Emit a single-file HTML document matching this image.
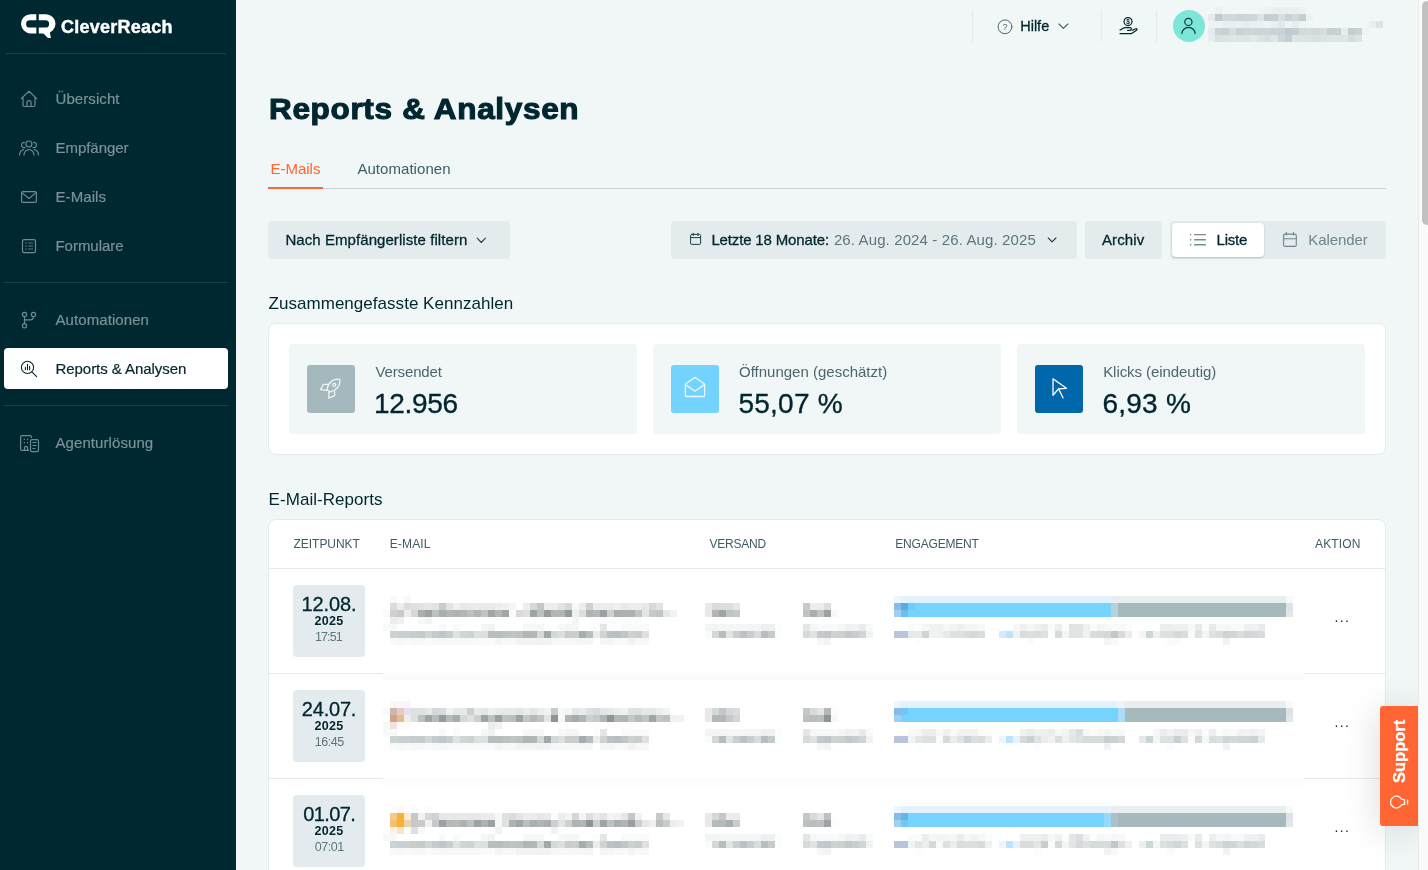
<!DOCTYPE html>
<html lang="de">
<head>
<meta charset="utf-8">
<title>Reports &amp; Analysen</title>
<style>
*{box-sizing:border-box;margin:0;padding:0}
html,body{width:1428px;height:870px;overflow:hidden}
body{font-family:"Liberation Sans",sans-serif;background:#f1f6f7;color:#00262f;position:relative}
.abs{position:absolute}
.t{position:absolute;white-space:nowrap;line-height:1}
.m{-webkit-text-stroke:.3px currentColor}
/* sidebar */
#side{position:absolute;left:0;top:0;width:236px;height:870px;background:#002831}
#side .hr{position:absolute;height:1px;background:#1d3f48}
.nl{position:absolute;left:55.5px;font-size:15px;line-height:1;color:#7a9196;white-space:nowrap;letter-spacing:.08px;-webkit-text-stroke:.2px currentColor}
/* header */
.vsep{position:absolute;top:10px;width:1px;height:32px;background:#e3eaec}
/* main */
.btn{position:absolute;top:221px;height:38px;background:#e4ebed;border-radius:4px}
.card{position:absolute;left:268px;width:1118px;background:#fff;border:1px solid #e4ebed;border-radius:8px}
.tile{position:absolute;top:344px;width:348px;height:90px;background:#f1f6f7;border-radius:4px}
.ico{position:absolute;top:365px;width:48px;height:48px;border-radius:3px}
.kl{position:absolute;top:363.6px;font-size:15px;line-height:1;color:#4d666d;white-space:nowrap}
.kv{position:absolute;top:390px;font-size:28px;line-height:1;color:#00262f;white-space:nowrap;-webkit-text-stroke:.35px #00262f}
.th{position:absolute;top:537.8px;font-size:12px;line-height:1;color:#3d5d66;white-space:nowrap}
.rowline{position:absolute;height:1px;background:#e4ebed}
.date{position:absolute;left:293px;width:72px;height:72px;background:#e3ebee;border-radius:4px;color:#00262f}
.date div{position:absolute;white-space:nowrap;line-height:1}
.date .d{left:0;right:0;text-align:center;top:8.7px;font-size:20px;-webkit-text-stroke:.3px #00262f}
.date .y{left:21.4px;top:30px;font-size:12.5px;font-weight:700;letter-spacing:.3px}
.date .h{left:0;right:0;text-align:center;top:45.5px;font-size:12.5px;color:#5d757c}
.dots{position:absolute;left:1334.4px;font-size:14px;letter-spacing:1.36px;color:#00262f;line-height:1;white-space:nowrap}
svg.mz{position:absolute;display:block}
svg.mz rect{height:7px;shape-rendering:crispEdges}
#ic{position:absolute;left:0;top:0;pointer-events:none}
#ic *{fill:none;stroke-linecap:round;stroke-linejoin:round}
</style>
</head>
<body>
<!-- SIDEBAR -->
<div id="side">
  <div class="t" id="logo" style="left:61px;top:18.2px;font-size:18px;font-weight:700;color:#fff;letter-spacing:.25px;-webkit-text-stroke:.4px #fff">CleverReach</div>
  <div class="hr" style="top:53px;left:6px;width:220px"></div>
  <span class="nl" style="top:90.6px">Übersicht</span>
  <span class="nl" style="top:139.6px;letter-spacing:-.04px">Empfänger</span>
  <span class="nl" style="top:188.6px">E-Mails</span>
  <span class="nl" style="top:237.6px;letter-spacing:-.04px">Formulare</span>
  <div class="hr" style="top:282px;left:4px;width:224px"></div>
  <span class="nl" style="top:311.6px">Automationen</span>
  <div class="abs" style="left:4px;top:348px;width:224px;height:41px;border-radius:4px;background:#fff"></div>
  <span class="nl m" style="top:360.6px;color:#00262f;letter-spacing:-.05px">Reports &amp; Analysen</span>
  <div class="hr" style="top:405px;left:4px;width:224px"></div>
  <span class="nl" style="top:434.6px">Agenturlösung</span>
</div>

<!-- HEADER -->
<div class="vsep" style="left:972px"></div>
<div class="vsep" style="left:1101px"></div>
<div class="vsep" style="left:1156px"></div>
<div class="t m" style="left:1020.2px;top:18.7px;font-size:14.5px;color:#00262f">Hilfe</div>
<div class="t" style="left:1002.6px;top:22.6px;font-size:9px;color:#4d666d">?</div>
<div class="abs" style="left:1173px;top:10px;width:32px;height:32px;border-radius:50%;background:#7ee6d6"></div>
<svg class="mz" style="left:1208px;top:0" width="182" height="49" viewBox="0 0 182 49"><rect x="7" y="7" width="7" fill="#eaf0f3"/><rect x="49" y="7" width="7" fill="#eef3f4"/><rect x="56" y="7" width="7" fill="#ecf1f3"/><rect x="63" y="7" width="28" fill="#e9eff1"/><rect x="91" y="7" width="7" fill="#ecf1f3"/><rect x="0" y="14" width="7" fill="#e6ecee"/><rect x="7" y="14" width="7" fill="#bfcbce"/><rect x="14" y="14" width="7" fill="#cfd8da"/><rect x="21" y="14" width="7" fill="#d0d9db"/><rect x="28" y="14" width="7" fill="#ccd6d8"/><rect x="35" y="14" width="7" fill="#cdd6d8"/><rect x="42" y="14" width="7" fill="#ced7d9"/><rect x="49" y="14" width="7" fill="#dde4e6"/><rect x="56" y="14" width="7" fill="#c3ced1"/><rect x="63" y="14" width="7" fill="#c5d0d2"/><rect x="70" y="14" width="7" fill="#d8dfe1"/><rect x="77" y="14" width="7" fill="#c9d3d5"/><rect x="84" y="14" width="7" fill="#d1d9db"/><rect x="91" y="14" width="7" fill="#c3ced1"/><rect x="98" y="14" width="7" fill="#ebf1f3"/><rect x="0" y="21" width="14" fill="#edf2f4"/><rect x="14" y="21" width="14" fill="#e9eef0"/><rect x="28" y="21" width="7" fill="#eaeff1"/><rect x="35" y="21" width="7" fill="#e7edef"/><rect x="42" y="21" width="7" fill="#eaeff1"/><rect x="49" y="21" width="7" fill="#ebf0f2"/><rect x="56" y="21" width="7" fill="#eef3f4"/><rect x="63" y="21" width="7" fill="#e8eef0"/><rect x="70" y="21" width="7" fill="#e3e9eb"/><rect x="77" y="21" width="7" fill="#eef3f5"/><rect x="84" y="21" width="7" fill="#e7ecef"/><rect x="91" y="21" width="7" fill="#eef3f4"/><rect x="161" y="21" width="7" fill="#eaeff1"/><rect x="168" y="21" width="7" fill="#dce3e6"/><rect x="0" y="28" width="7" fill="#e6ecee"/><rect x="7" y="28" width="7" fill="#c9d3d5"/><rect x="14" y="28" width="7" fill="#c7d1d4"/><rect x="21" y="28" width="7" fill="#d5dddf"/><rect x="28" y="28" width="7" fill="#c8d2d4"/><rect x="35" y="28" width="7" fill="#cbd4d6"/><rect x="42" y="28" width="14" fill="#ccd5d7"/><rect x="56" y="28" width="7" fill="#cbd4d7"/><rect x="63" y="28" width="14" fill="#c9d3d5"/><rect x="77" y="28" width="7" fill="#bfcbce"/><rect x="84" y="28" width="7" fill="#c3ced1"/><rect x="91" y="28" width="7" fill="#d2dadc"/><rect x="98" y="28" width="7" fill="#d3dbdd"/><rect x="105" y="28" width="7" fill="#d0d8da"/><rect x="112" y="28" width="7" fill="#d6dddf"/><rect x="119" y="28" width="7" fill="#c6d0d2"/><rect x="126" y="28" width="7" fill="#c8d2d4"/><rect x="133" y="28" width="7" fill="#e6ecee"/><rect x="140" y="28" width="7" fill="#c3ced0"/><rect x="147" y="28" width="7" fill="#c8d1d4"/><rect x="154" y="28" width="7" fill="#eef3f4"/><rect x="0" y="35" width="7" fill="#e8eef0"/><rect x="7" y="35" width="7" fill="#d9e0e2"/><rect x="14" y="35" width="7" fill="#dbe2e4"/><rect x="21" y="35" width="7" fill="#dfe5e7"/><rect x="28" y="35" width="14" fill="#dde4e6"/><rect x="42" y="35" width="7" fill="#e3e9eb"/><rect x="49" y="35" width="7" fill="#dbe2e4"/><rect x="56" y="35" width="7" fill="#d6dee0"/><rect x="63" y="35" width="7" fill="#e0e6e8"/><rect x="70" y="35" width="7" fill="#cdd6d9"/><rect x="77" y="35" width="7" fill="#c4cfd2"/><rect x="84" y="35" width="7" fill="#dde4e6"/><rect x="91" y="35" width="7" fill="#dce3e5"/><rect x="98" y="35" width="7" fill="#dae1e3"/><rect x="105" y="35" width="7" fill="#d8dfe2"/><rect x="112" y="35" width="7" fill="#dce3e5"/><rect x="119" y="35" width="7" fill="#dde4e6"/><rect x="126" y="35" width="14" fill="#dfe5e7"/><rect x="140" y="35" width="7" fill="#d5dddf"/><rect x="147" y="35" width="7" fill="#dce3e5"/></svg>

<!-- TITLE -->
<div class="t" id="title" style="left:269.3px;top:94.4px;font-size:30px;font-weight:700;color:#00262f;letter-spacing:.64px;-webkit-text-stroke:1.1px #00262f;transform-origin:0 50%;transform:scaleX(1.05)">Reports &amp; Analysen</div>

<!-- TABS -->
<div class="t" style="left:270.4px;top:160.5px;font-size:15px;color:#ff6633">E-Mails</div>
<div class="t" style="left:357.4px;top:160.5px;font-size:15px;color:#3d5d66;letter-spacing:.05px">Automationen</div>
<div class="abs" style="left:268px;top:188px;width:1118px;height:1px;background:#c9d4d7"></div>
<div class="abs" style="left:268px;top:187px;width:55px;height:2px;background:#ff6633"></div>

<!-- FILTERS -->
<div class="btn" style="left:268px;width:242px"></div>
<div class="t m" style="left:285.4px;top:232.4px;font-size:15px;letter-spacing:.07px">Nach Empfängerliste filtern</div>
<div class="btn" style="left:671px;width:406px"></div>
<div class="t m" style="left:711.4px;top:232.4px;font-size:15px;letter-spacing:-.15px">Letzte 18 Monate:</div>
<div class="t" style="left:833.9px;top:232.4px;font-size:15px;color:#5d757c;letter-spacing:.12px">26. Aug. 2024 - 26. Aug. 2025</div>
<div class="btn" style="left:1085px;width:77px"></div>
<div class="t m" style="left:1102px;top:232.4px;font-size:15px;letter-spacing:.1px">Archiv</div>
<div class="btn" style="left:1170px;width:216px"></div>
<div class="abs" style="left:1172px;top:223px;width:92px;height:34px;background:#fff;border-radius:4px;box-shadow:0 1px 2px rgba(0,38,47,.22)"></div>
<div class="t m" style="left:1216.6px;top:232.4px;font-size:15px;letter-spacing:-.25px">Liste</div>
<div class="t" style="left:1308.3px;top:232.4px;font-size:15px;color:#6f868c;letter-spacing:-.1px">Kalender</div>

<!-- KPI -->
<div class="t" style="left:268.6px;top:294.5px;font-size:17px;letter-spacing:.03px">Zusammengefasste Kennzahlen</div>
<div class="card" style="top:323px;height:132px"></div>
<div class="tile" style="left:289px"></div>
<div class="tile" style="left:653px"></div>
<div class="tile" style="left:1017px"></div>
<div class="ico" style="left:307px;background:#a5b8bd"></div>
<div class="ico" style="left:671px;background:#74d3fe"></div>
<div class="ico" style="left:1035px;background:#0067ab"></div>
<span class="kl" style="left:375.4px;letter-spacing:-.12px">Versendet</span>
<span class="kv" style="left:374px;letter-spacing:-.3px">12.956</span>
<span class="kl" style="left:739px">Öffnungen (geschätzt)</span>
<span class="kv" style="left:738.4px;letter-spacing:.25px">55,07 %</span>
<span class="kl" style="left:1103.2px;letter-spacing:-.07px">Klicks (eindeutig)</span>
<span class="kv" style="left:1102.4px;letter-spacing:.25px">6,93 %</span>

<!-- TABLE -->
<div class="t" style="left:268.6px;top:490.7px;font-size:17px;letter-spacing:.05px">E-Mail-Reports</div>
<div class="card" style="top:519px;height:400px"></div>
<span class="th" style="left:293.5px;letter-spacing:-.03px">ZEITPUNKT</span>
<span class="th" style="left:389.7px;letter-spacing:.17px">E-MAIL</span>
<span class="th" style="left:709.4px;letter-spacing:-.19px">VERSAND</span>
<span class="th" style="left:895.3px;letter-spacing:-.19px">ENGAGEMENT</span>
<span class="th" style="left:1315px;letter-spacing:.13px">AKTION</span>
<div class="rowline" style="left:269px;top:568px;width:1116px"></div>
<div class="rowline" style="left:269px;top:673px;width:1116px"></div>
<div class="rowline" style="left:269px;top:778px;width:1116px"></div>
<div class="abs" style="left:383px;top:673px;width:921px;height:7px;background:#fbfcfc"></div>
<div class="abs" style="left:383px;top:778px;width:921px;height:7px;background:#fbfcfc"></div>

<div class="date" style="top:585px"><div class="d" style="letter-spacing:-.1px">12.08.</div><div class="y">2025</div><div class="h" style="letter-spacing:-.9px;padding-right:1.2px">17:51</div></div>
<div class="date" style="top:690px"><div class="d" style="letter-spacing:-.2px">24.07.</div><div class="y">2025</div><div class="h" style="letter-spacing:-.5px;padding-left:.5px">16:45</div></div>
<div class="date" style="top:795px"><div class="d" style="letter-spacing:-.6px;padding-left:.6px">01.07.</div><div class="y">2025</div><div class="h" style="letter-spacing:-.45px;padding-left:.5px">07:01</div></div>
<svg class="mz" style="left:383px;top:596px" width="921" height="49" viewBox="0 0 921 49"><rect x="7" y="0" width="7" fill="#f8f8f8"/><rect x="21" y="0" width="7" fill="#f8f8f8"/><rect x="511" y="0" width="7" fill="#eef6fd"/><rect x="518" y="0" width="210" fill="#e3f2fd"/><rect x="728" y="0" width="7" fill="#e6eef2"/><rect x="735" y="0" width="168" fill="#e9eeef"/><rect x="903" y="0" width="7" fill="#f8fafa"/><rect x="7" y="7" width="7" fill="#dcdcdd"/><rect x="14" y="7" width="7" fill="#ececec"/><rect x="21" y="7" width="7" fill="#dcdcdd"/><rect x="28" y="7" width="7" fill="#dedfdf"/><rect x="35" y="7" width="7" fill="#e2e2e2"/><rect x="42" y="7" width="7" fill="#e6e6e6"/><rect x="49" y="7" width="7" fill="#e2e3e3"/><rect x="56" y="7" width="7" fill="#c9cccd"/><rect x="63" y="7" width="7" fill="#e3e3e3"/><rect x="70" y="7" width="7" fill="#f0f0f0"/><rect x="77" y="7" width="7" fill="#e8e8e8"/><rect x="84" y="7" width="7" fill="#eaeaea"/><rect x="91" y="7" width="7" fill="#ebebeb"/><rect x="98" y="7" width="14" fill="#eaeaea"/><rect x="112" y="7" width="7" fill="#ededed"/><rect x="119" y="7" width="7" fill="#f0f0f0"/><rect x="126" y="7" width="7" fill="#f5f5f5"/><rect x="140" y="7" width="7" fill="#eeeeee"/><rect x="147" y="7" width="7" fill="#d5d8d8"/><rect x="154" y="7" width="7" fill="#c5c6c7"/><rect x="161" y="7" width="7" fill="#eeeeee"/><rect x="168" y="7" width="7" fill="#ececec"/><rect x="175" y="7" width="7" fill="#e2e4e4"/><rect x="182" y="7" width="7" fill="#d5d8d8"/><rect x="189" y="7" width="7" fill="#f8f8f8"/><rect x="196" y="7" width="7" fill="#ececec"/><rect x="203" y="7" width="7" fill="#cfd0d1"/><rect x="210" y="7" width="7" fill="#ececec"/><rect x="217" y="7" width="7" fill="#ededed"/><rect x="224" y="7" width="7" fill="#ebebeb"/><rect x="231" y="7" width="7" fill="#efefef"/><rect x="238" y="7" width="7" fill="#e9e9ea"/><rect x="245" y="7" width="7" fill="#ececec"/><rect x="252" y="7" width="7" fill="#ededed"/><rect x="259" y="7" width="7" fill="#e6e7e7"/><rect x="266" y="7" width="7" fill="#d8d9da"/><rect x="273" y="7" width="7" fill="#e2e3e4"/><rect x="322" y="7" width="7" fill="#e9e9e9"/><rect x="329" y="7" width="7" fill="#d9dbdb"/><rect x="336" y="7" width="14" fill="#dcdddd"/><rect x="350" y="7" width="7" fill="#e6e7e7"/><rect x="420" y="7" width="7" fill="#c8caca"/><rect x="427" y="7" width="14" fill="#ebecec"/><rect x="441" y="7" width="7" fill="#dcdddd"/><rect x="511" y="7" width="7" fill="#86bce6"/><rect x="518" y="7" width="7" fill="#5aace0"/><rect x="525" y="7" width="7" fill="#70ccf8"/><rect x="532" y="7" width="196" fill="#76d3fd"/><rect x="728" y="7" width="7" fill="#b9cfdb"/><rect x="735" y="7" width="168" fill="#a6babe"/><rect x="903" y="7" width="7" fill="#dde3e5"/><rect x="0" y="14" width="7" fill="#fafafa"/><rect x="7" y="14" width="7" fill="#d0d0d1"/><rect x="14" y="14" width="7" fill="#c9cacb"/><rect x="21" y="14" width="7" fill="#ededed"/><rect x="28" y="14" width="7" fill="#d5d8d8"/><rect x="35" y="14" width="7" fill="#a9aeaf"/><rect x="42" y="14" width="7" fill="#9da2a3"/><rect x="49" y="14" width="7" fill="#bcc0c0"/><rect x="56" y="14" width="7" fill="#a9aeae"/><rect x="63" y="14" width="7" fill="#b2b6b6"/><rect x="70" y="14" width="7" fill="#adb2b2"/><rect x="77" y="14" width="7" fill="#b2b6b6"/><rect x="84" y="14" width="7" fill="#bdc0c0"/><rect x="91" y="14" width="7" fill="#b0b4b4"/><rect x="98" y="14" width="7" fill="#c0c3c3"/><rect x="105" y="14" width="7" fill="#9fa4a5"/><rect x="112" y="14" width="7" fill="#b2b6b6"/><rect x="119" y="14" width="7" fill="#a0a5a6"/><rect x="126" y="14" width="7" fill="#fafafa"/><rect x="133" y="14" width="7" fill="#d8d9d9"/><rect x="140" y="14" width="7" fill="#e0e0e0"/><rect x="147" y="14" width="7" fill="#9fa4a5"/><rect x="154" y="14" width="7" fill="#bcc0c0"/><rect x="161" y="14" width="7" fill="#979c9d"/><rect x="168" y="14" width="7" fill="#b2b6b6"/><rect x="175" y="14" width="7" fill="#b0b5b5"/><rect x="182" y="14" width="7" fill="#959a9b"/><rect x="189" y="14" width="7" fill="#f0f0f0"/><rect x="196" y="14" width="7" fill="#dcdddd"/><rect x="203" y="14" width="7" fill="#adb2b2"/><rect x="210" y="14" width="7" fill="#b4b9b9"/><rect x="217" y="14" width="7" fill="#9ca2a3"/><rect x="224" y="14" width="7" fill="#cdd0d0"/><rect x="231" y="14" width="7" fill="#a9aeaf"/><rect x="238" y="14" width="14" fill="#abb0b1"/><rect x="252" y="14" width="7" fill="#c0c4c4"/><rect x="259" y="14" width="7" fill="#e4e5e5"/><rect x="266" y="14" width="7" fill="#c5c9c9"/><rect x="273" y="14" width="7" fill="#bfc4c4"/><rect x="280" y="14" width="7" fill="#e6e7e7"/><rect x="287" y="14" width="7" fill="#f0f1f1"/><rect x="322" y="14" width="7" fill="#e9e9e9"/><rect x="329" y="14" width="7" fill="#b2b6b6"/><rect x="336" y="14" width="7" fill="#9fa4a5"/><rect x="343" y="14" width="7" fill="#c0c3c3"/><rect x="350" y="14" width="7" fill="#c5c8c8"/><rect x="420" y="14" width="7" fill="#c0c3c3"/><rect x="427" y="14" width="7" fill="#a8adad"/><rect x="434" y="14" width="7" fill="#c0c3c3"/><rect x="441" y="14" width="7" fill="#9ca0a1"/><rect x="448" y="14" width="7" fill="#f8f8f8"/><rect x="511" y="14" width="7" fill="#9dd0f3"/><rect x="518" y="14" width="7" fill="#69bfee"/><rect x="525" y="14" width="203" fill="#76d3fd"/><rect x="728" y="14" width="7" fill="#b9cfdb"/><rect x="735" y="14" width="168" fill="#a6babe"/><rect x="903" y="14" width="7" fill="#e1e7e8"/><rect x="7" y="21" width="7" fill="#ececec"/><rect x="14" y="21" width="7" fill="#f0f0f0"/><rect x="35" y="21" width="7" fill="#f6f7f7"/><rect x="42" y="21" width="7" fill="#f3f4f4"/><rect x="189" y="21" width="7" fill="#f5f5f5"/><rect x="210" y="21" width="49" fill="#fcfcfc"/><rect x="0" y="28" width="14" fill="#f7f8f8"/><rect x="56" y="28" width="7" fill="#f8f9f9"/><rect x="70" y="28" width="7" fill="#fafafa"/><rect x="98" y="28" width="7" fill="#f5f5f5"/><rect x="105" y="28" width="7" fill="#f1f2f2"/><rect x="140" y="28" width="21" fill="#f6f7f7"/><rect x="175" y="28" width="7" fill="#f8f8f8"/><rect x="182" y="28" width="7" fill="#f4f5f5"/><rect x="189" y="28" width="7" fill="#f6f6f6"/><rect x="210" y="28" width="7" fill="#fcfcfc"/><rect x="217" y="28" width="7" fill="#e5e6e6"/><rect x="238" y="28" width="28" fill="#fafafa"/><rect x="322" y="28" width="14" fill="#f3f4f5"/><rect x="336" y="28" width="7" fill="#f4f5f5"/><rect x="343" y="28" width="21" fill="#f5f6f6"/><rect x="364" y="28" width="14" fill="#f4f5f5"/><rect x="378" y="28" width="14" fill="#eff0f1"/><rect x="392" y="28" width="7" fill="#fcfcfc"/><rect x="420" y="28" width="7" fill="#e3e6e7"/><rect x="427" y="28" width="7" fill="#f6f7f7"/><rect x="434" y="28" width="21" fill="#f8f9f9"/><rect x="455" y="28" width="7" fill="#f5f6f6"/><rect x="462" y="28" width="7" fill="#f0f1f1"/><rect x="469" y="28" width="7" fill="#f2f3f3"/><rect x="476" y="28" width="7" fill="#e8ebeb"/><rect x="483" y="28" width="7" fill="#f8f9f9"/><rect x="525" y="28" width="7" fill="#f8f9f9"/><rect x="532" y="28" width="7" fill="#fcfcfc"/><rect x="539" y="28" width="7" fill="#f5f6f6"/><rect x="546" y="28" width="14" fill="#f0f1f1"/><rect x="560" y="28" width="7" fill="#f6f7f7"/><rect x="567" y="28" width="7" fill="#f2f3f3"/><rect x="574" y="28" width="7" fill="#eeefef"/><rect x="581" y="28" width="7" fill="#f3f4f4"/><rect x="588" y="28" width="7" fill="#f4f5f5"/><rect x="595" y="28" width="7" fill="#f6f7f7"/><rect x="630" y="28" width="7" fill="#f7f8f8"/><rect x="637" y="28" width="7" fill="#eff1f1"/><rect x="644" y="28" width="7" fill="#f5f6f6"/><rect x="651" y="28" width="7" fill="#eff1f1"/><rect x="658" y="28" width="7" fill="#e9ecec"/><rect x="665" y="28" width="7" fill="#f8f9f9"/><rect x="672" y="28" width="7" fill="#eceeee"/><rect x="679" y="28" width="7" fill="#fdfdfd"/><rect x="686" y="28" width="14" fill="#e0e4e4"/><rect x="700" y="28" width="7" fill="#eef0f0"/><rect x="707" y="28" width="7" fill="#fbfbfb"/><rect x="714" y="28" width="7" fill="#f2f4f5"/><rect x="721" y="28" width="7" fill="#f6f7f7"/><rect x="728" y="28" width="14" fill="#f8f9f9"/><rect x="742" y="28" width="7" fill="#fcfcfc"/><rect x="777" y="28" width="7" fill="#ebedee"/><rect x="784" y="28" width="7" fill="#eaeced"/><rect x="791" y="28" width="14" fill="#eeefef"/><rect x="805" y="28" width="7" fill="#f8f9f9"/><rect x="812" y="28" width="7" fill="#e6eaea"/><rect x="819" y="28" width="7" fill="#fbfbfb"/><rect x="826" y="28" width="7" fill="#e6eaea"/><rect x="833" y="28" width="7" fill="#f8f8f8"/><rect x="840" y="28" width="7" fill="#f6f7f7"/><rect x="847" y="28" width="14" fill="#f8f9f9"/><rect x="861" y="28" width="7" fill="#eef0f0"/><rect x="868" y="28" width="7" fill="#eff1f2"/><rect x="875" y="28" width="7" fill="#e8ebeb"/><rect x="7" y="35" width="7" fill="#ccd3d4"/><rect x="14" y="35" width="7" fill="#c9d0d1"/><rect x="21" y="35" width="7" fill="#cad0d1"/><rect x="28" y="35" width="7" fill="#c7cdce"/><rect x="35" y="35" width="7" fill="#c5cbcc"/><rect x="42" y="35" width="7" fill="#d0d5d6"/><rect x="49" y="35" width="7" fill="#c5cbcc"/><rect x="56" y="35" width="7" fill="#c0c7c8"/><rect x="63" y="35" width="7" fill="#c8ced0"/><rect x="70" y="35" width="7" fill="#dfe2e3"/><rect x="77" y="35" width="7" fill="#d0d5d6"/><rect x="84" y="35" width="7" fill="#cdd2d3"/><rect x="91" y="35" width="7" fill="#dde0e1"/><rect x="98" y="35" width="7" fill="#dcdfdf"/><rect x="105" y="35" width="7" fill="#b8bebf"/><rect x="112" y="35" width="7" fill="#b8bdbe"/><rect x="119" y="35" width="7" fill="#bcc1c2"/><rect x="126" y="35" width="7" fill="#bfc4c5"/><rect x="133" y="35" width="7" fill="#bcc1c2"/><rect x="140" y="35" width="7" fill="#b0b6b7"/><rect x="147" y="35" width="7" fill="#b2b7b8"/><rect x="154" y="35" width="7" fill="#d5d8d9"/><rect x="161" y="35" width="7" fill="#a0a8aa"/><rect x="168" y="35" width="7" fill="#d5d8d9"/><rect x="175" y="35" width="7" fill="#dddfdf"/><rect x="182" y="35" width="7" fill="#c8cccd"/><rect x="189" y="35" width="7" fill="#c9cdce"/><rect x="196" y="35" width="7" fill="#a5adaf"/><rect x="203" y="35" width="7" fill="#b8bebf"/><rect x="210" y="35" width="7" fill="#ebecec"/><rect x="217" y="35" width="7" fill="#cfd3d3"/><rect x="224" y="35" width="7" fill="#bcc2c3"/><rect x="231" y="35" width="7" fill="#b9bfc0"/><rect x="238" y="35" width="7" fill="#c0c5c5"/><rect x="245" y="35" width="7" fill="#cdd1d1"/><rect x="252" y="35" width="7" fill="#c9cdce"/><rect x="259" y="35" width="7" fill="#dfe1e1"/><rect x="322" y="35" width="7" fill="#f9fafa"/><rect x="329" y="35" width="7" fill="#d3d7d8"/><rect x="336" y="35" width="7" fill="#b5bdbf"/><rect x="343" y="35" width="7" fill="#e1e4e4"/><rect x="350" y="35" width="7" fill="#cad0d1"/><rect x="357" y="35" width="7" fill="#bac2c4"/><rect x="364" y="35" width="7" fill="#c8cdcf"/><rect x="371" y="35" width="7" fill="#d8dcdd"/><rect x="378" y="35" width="7" fill="#b5bec0"/><rect x="385" y="35" width="7" fill="#c5cbcd"/><rect x="392" y="35" width="7" fill="#fcfdfd"/><rect x="420" y="35" width="7" fill="#d6dadb"/><rect x="427" y="35" width="7" fill="#e0e3e3"/><rect x="434" y="35" width="7" fill="#c5cbcc"/><rect x="441" y="35" width="7" fill="#c0c7c8"/><rect x="448" y="35" width="7" fill="#cdd2d3"/><rect x="455" y="35" width="7" fill="#cbd0d1"/><rect x="462" y="35" width="7" fill="#c3c9ca"/><rect x="469" y="35" width="7" fill="#c8cecf"/><rect x="476" y="35" width="7" fill="#d0d5d6"/><rect x="483" y="35" width="7" fill="#f1f2f2"/><rect x="511" y="35" width="7" fill="#b9c4da"/><rect x="518" y="35" width="7" fill="#b8c4da"/><rect x="525" y="35" width="14" fill="#e6e9ea"/><rect x="539" y="35" width="7" fill="#cfd4d5"/><rect x="546" y="35" width="14" fill="#f0f1f1"/><rect x="560" y="35" width="7" fill="#e6e9e9"/><rect x="567" y="35" width="14" fill="#dde1e1"/><rect x="581" y="35" width="7" fill="#d8dcdd"/><rect x="588" y="35" width="7" fill="#d3d8d9"/><rect x="595" y="35" width="7" fill="#d9dddd"/><rect x="616" y="35" width="7" fill="#d5ebfb"/><rect x="623" y="35" width="7" fill="#bde3fc"/><rect x="630" y="35" width="7" fill="#f1f3f3"/><rect x="637" y="35" width="7" fill="#d9dddd"/><rect x="644" y="35" width="7" fill="#dbdfdf"/><rect x="651" y="35" width="7" fill="#d8dcdc"/><rect x="658" y="35" width="7" fill="#dde1e1"/><rect x="665" y="35" width="7" fill="#fdfdfd"/><rect x="672" y="35" width="7" fill="#d5dada"/><rect x="679" y="35" width="7" fill="#f3f4f4"/><rect x="686" y="35" width="7" fill="#dfe3e3"/><rect x="693" y="35" width="7" fill="#e0e4e4"/><rect x="700" y="35" width="7" fill="#f0f1f1"/><rect x="707" y="35" width="7" fill="#d8dcdc"/><rect x="714" y="35" width="7" fill="#d6dadb"/><rect x="721" y="35" width="7" fill="#d3d8d9"/><rect x="728" y="35" width="7" fill="#c0c8c9"/><rect x="735" y="35" width="7" fill="#d6dbdb"/><rect x="742" y="35" width="7" fill="#ededef"/><rect x="756" y="35" width="7" fill="#f4f5f5"/><rect x="763" y="35" width="7" fill="#ccd7d8"/><rect x="770" y="35" width="7" fill="#eef1f1"/><rect x="777" y="35" width="7" fill="#dde1e1"/><rect x="784" y="35" width="7" fill="#dbdfdf"/><rect x="791" y="35" width="7" fill="#d3d8d8"/><rect x="798" y="35" width="7" fill="#d8dcdc"/><rect x="805" y="35" width="7" fill="#f8f9f9"/><rect x="812" y="35" width="7" fill="#dde1e2"/><rect x="819" y="35" width="7" fill="#f3f4f4"/><rect x="826" y="35" width="7" fill="#dde1e1"/><rect x="833" y="35" width="7" fill="#d8dddd"/><rect x="840" y="35" width="7" fill="#cdd3d4"/><rect x="847" y="35" width="7" fill="#d0d6d7"/><rect x="854" y="35" width="7" fill="#dadedf"/><rect x="861" y="35" width="7" fill="#d0d6d7"/><rect x="868" y="35" width="7" fill="#d3d8d9"/><rect x="875" y="35" width="7" fill="#d8dcdd"/><rect x="7" y="42" width="7" fill="#f8f9f9"/><rect x="14" y="42" width="7" fill="#f6f7f8"/><rect x="21" y="42" width="7" fill="#f9f9f9"/><rect x="28" y="42" width="14" fill="#f6f7f7"/><rect x="42" y="42" width="7" fill="#f9fafa"/><rect x="49" y="42" width="7" fill="#f7f8f8"/><rect x="56" y="42" width="7" fill="#f6f7f7"/><rect x="63" y="42" width="7" fill="#f7f8f8"/><rect x="70" y="42" width="7" fill="#f9f9f9"/><rect x="77" y="42" width="7" fill="#f7f8f8"/><rect x="84" y="42" width="7" fill="#f8f9f9"/><rect x="91" y="42" width="7" fill="#f9f9f9"/><rect x="98" y="42" width="14" fill="#fafafa"/><rect x="112" y="42" width="7" fill="#f4f4f4"/><rect x="119" y="42" width="14" fill="#f8f8f8"/><rect x="133" y="42" width="21" fill="#f3f3f3"/><rect x="154" y="42" width="7" fill="#f2f2f2"/><rect x="161" y="42" width="7" fill="#f3f3f3"/><rect x="168" y="42" width="7" fill="#f7f7f7"/><rect x="175" y="42" width="7" fill="#f8f8f8"/><rect x="182" y="42" width="7" fill="#f6f7f7"/><rect x="189" y="42" width="7" fill="#f7f7f7"/><rect x="196" y="42" width="7" fill="#f6f6f6"/><rect x="203" y="42" width="7" fill="#f5f5f5"/><rect x="217" y="42" width="7" fill="#f4f5f5"/><rect x="224" y="42" width="7" fill="#f5f5f5"/><rect x="231" y="42" width="14" fill="#f8f9f9"/><rect x="245" y="42" width="7" fill="#f3f3f3"/><rect x="252" y="42" width="7" fill="#f8f8f8"/><rect x="259" y="42" width="7" fill="#f7f8f8"/><rect x="434" y="42" width="7" fill="#f5f6f6"/><rect x="441" y="42" width="7" fill="#f2f3f3"/><rect x="532" y="42" width="7" fill="#fcfdfd"/><rect x="644" y="42" width="7" fill="#fbfbfb"/><rect x="721" y="42" width="7" fill="#f2f4f5"/><rect x="728" y="42" width="7" fill="#f8f9f9"/><rect x="784" y="42" width="14" fill="#fbfbfb"/><rect x="840" y="42" width="7" fill="#f0f2f3"/></svg>
<svg class="mz" style="left:383px;top:701px" width="921" height="49" viewBox="0 0 921 49"><rect x="7" y="0" width="7" fill="#fbf5f5"/><rect x="14" y="0" width="7" fill="#f8f8fb"/><rect x="21" y="0" width="7" fill="#fbf5f8"/><rect x="511" y="0" width="7" fill="#eef6fd"/><rect x="518" y="0" width="217" fill="#e3f2fd"/><rect x="735" y="0" width="7" fill="#ecf5fc"/><rect x="742" y="0" width="161" fill="#e9eeef"/><rect x="903" y="0" width="7" fill="#f8fafa"/><rect x="0" y="7" width="7" fill="#f8f8fb"/><rect x="7" y="7" width="7" fill="#cbb8ad"/><rect x="14" y="7" width="7" fill="#ebc8c0"/><rect x="21" y="7" width="7" fill="#e6e0ee"/><rect x="28" y="7" width="14" fill="#dfe1e1"/><rect x="42" y="7" width="7" fill="#e6e7e7"/><rect x="49" y="7" width="7" fill="#d3d7d8"/><rect x="56" y="7" width="7" fill="#d8dbdc"/><rect x="63" y="7" width="7" fill="#eff0f0"/><rect x="70" y="7" width="7" fill="#e6e7e8"/><rect x="77" y="7" width="7" fill="#e6e7e7"/><rect x="84" y="7" width="7" fill="#ccd0d1"/><rect x="91" y="7" width="7" fill="#e9eaea"/><rect x="98" y="7" width="7" fill="#e3e5e6"/><rect x="105" y="7" width="7" fill="#eeefef"/><rect x="112" y="7" width="7" fill="#e8e9e9"/><rect x="119" y="7" width="7" fill="#e6e8e8"/><rect x="126" y="7" width="7" fill="#e8e9e9"/><rect x="133" y="7" width="7" fill="#e3e5e5"/><rect x="140" y="7" width="7" fill="#eaebeb"/><rect x="147" y="7" width="7" fill="#e3e5e5"/><rect x="154" y="7" width="7" fill="#ebecec"/><rect x="161" y="7" width="7" fill="#f1f2f2"/><rect x="168" y="7" width="7" fill="#c5cacb"/><rect x="175" y="7" width="7" fill="#f6f7f7"/><rect x="182" y="7" width="7" fill="#f3f4f4"/><rect x="189" y="7" width="7" fill="#e3e5e6"/><rect x="196" y="7" width="7" fill="#e9eaeb"/><rect x="203" y="7" width="7" fill="#dddfe0"/><rect x="210" y="7" width="7" fill="#d8dadb"/><rect x="217" y="7" width="7" fill="#e3e4e5"/><rect x="224" y="7" width="7" fill="#e6e7e7"/><rect x="231" y="7" width="7" fill="#ebecec"/><rect x="238" y="7" width="7" fill="#eff0f0"/><rect x="245" y="7" width="14" fill="#dfe1e1"/><rect x="259" y="7" width="14" fill="#e5e6e6"/><rect x="273" y="7" width="7" fill="#ebecec"/><rect x="280" y="7" width="7" fill="#f1f2f2"/><rect x="322" y="7" width="7" fill="#e9e9e9"/><rect x="329" y="7" width="7" fill="#d5d8d9"/><rect x="336" y="7" width="7" fill="#c3c7c8"/><rect x="343" y="7" width="7" fill="#d5d8d9"/><rect x="350" y="7" width="7" fill="#dadcdd"/><rect x="420" y="7" width="7" fill="#c5c8c8"/><rect x="427" y="7" width="7" fill="#d8dada"/><rect x="434" y="7" width="7" fill="#e3e4e4"/><rect x="441" y="7" width="7" fill="#b5b8b9"/><rect x="448" y="7" width="7" fill="#fcfcfc"/><rect x="511" y="7" width="7" fill="#86bce6"/><rect x="518" y="7" width="7" fill="#6ec8f5"/><rect x="525" y="7" width="210" fill="#76d3fd"/><rect x="735" y="7" width="7" fill="#addcf6"/><rect x="742" y="7" width="161" fill="#a6babe"/><rect x="903" y="7" width="7" fill="#dde3e5"/><rect x="7" y="14" width="7" fill="#d2a387"/><rect x="14" y="14" width="7" fill="#dfc08f"/><rect x="21" y="14" width="7" fill="#f1ece6"/><rect x="28" y="14" width="7" fill="#dde0e0"/><rect x="35" y="14" width="7" fill="#bcc1c2"/><rect x="42" y="14" width="7" fill="#9fa5a7"/><rect x="49" y="14" width="7" fill="#b5babb"/><rect x="56" y="14" width="7" fill="#959c9e"/><rect x="63" y="14" width="7" fill="#b5babb"/><rect x="70" y="14" width="7" fill="#a8aeaf"/><rect x="77" y="14" width="7" fill="#d5d8d8"/><rect x="84" y="14" width="7" fill="#dfe1e1"/><rect x="91" y="14" width="7" fill="#cbcfd0"/><rect x="98" y="14" width="7" fill="#9fa5a7"/><rect x="105" y="14" width="7" fill="#bcc1c2"/><rect x="112" y="14" width="7" fill="#9aa1a3"/><rect x="119" y="14" width="7" fill="#bcc1c2"/><rect x="126" y="14" width="7" fill="#b9bebf"/><rect x="133" y="14" width="7" fill="#9da3a5"/><rect x="140" y="14" width="7" fill="#c3c7c8"/><rect x="147" y="14" width="7" fill="#b5b9ba"/><rect x="154" y="14" width="7" fill="#c0c2c3"/><rect x="161" y="14" width="7" fill="#e3e5e5"/><rect x="168" y="14" width="7" fill="#8d9496"/><rect x="175" y="14" width="7" fill="#f6f7f7"/><rect x="182" y="14" width="7" fill="#b0b6b7"/><rect x="189" y="14" width="7" fill="#a5abac"/><rect x="196" y="14" width="7" fill="#b0b6b7"/><rect x="203" y="14" width="7" fill="#ccd0d1"/><rect x="210" y="14" width="7" fill="#c5c9ca"/><rect x="217" y="14" width="7" fill="#b0b5b6"/><rect x="224" y="14" width="7" fill="#8f9698"/><rect x="231" y="14" width="7" fill="#b2b7b8"/><rect x="238" y="14" width="7" fill="#b0b5b6"/><rect x="245" y="14" width="7" fill="#c3c7c8"/><rect x="252" y="14" width="7" fill="#b5babb"/><rect x="259" y="14" width="7" fill="#c0c4c5"/><rect x="266" y="14" width="7" fill="#a0a6a8"/><rect x="273" y="14" width="7" fill="#c3c7c8"/><rect x="280" y="14" width="7" fill="#bcc1c2"/><rect x="287" y="14" width="7" fill="#eef0f2"/><rect x="294" y="14" width="7" fill="#f1f2f3"/><rect x="322" y="14" width="7" fill="#e9e9e9"/><rect x="329" y="14" width="14" fill="#b2b7b8"/><rect x="343" y="14" width="7" fill="#c5c9ca"/><rect x="350" y="14" width="7" fill="#d3d5d6"/><rect x="420" y="14" width="7" fill="#bcc0c0"/><rect x="427" y="14" width="7" fill="#b9bdbd"/><rect x="434" y="14" width="7" fill="#bcc0c0"/><rect x="441" y="14" width="7" fill="#8f9596"/><rect x="448" y="14" width="7" fill="#f8f8f8"/><rect x="511" y="14" width="7" fill="#9dd0f3"/><rect x="518" y="14" width="217" fill="#76d3fd"/><rect x="735" y="14" width="7" fill="#addcf6"/><rect x="742" y="14" width="161" fill="#a6babe"/><rect x="903" y="14" width="7" fill="#e1e7e8"/><rect x="0" y="21" width="7" fill="#f8f8f8"/><rect x="7" y="21" width="7" fill="#f1e3dc"/><rect x="14" y="21" width="7" fill="#fdfcfc"/><rect x="21" y="21" width="7" fill="#fdfafb"/><rect x="105" y="21" width="7" fill="#ebeded"/><rect x="112" y="21" width="7" fill="#f0f1f1"/><rect x="224" y="21" width="28" fill="#fdfdfd"/><rect x="0" y="28" width="14" fill="#f7f8f8"/><rect x="56" y="28" width="7" fill="#f8f9f9"/><rect x="70" y="28" width="7" fill="#fafafa"/><rect x="98" y="28" width="7" fill="#f5f5f5"/><rect x="105" y="28" width="7" fill="#f1f2f2"/><rect x="140" y="28" width="21" fill="#f6f7f7"/><rect x="175" y="28" width="7" fill="#f8f8f8"/><rect x="182" y="28" width="7" fill="#f4f5f5"/><rect x="189" y="28" width="7" fill="#f6f6f6"/><rect x="210" y="28" width="7" fill="#fcfcfc"/><rect x="217" y="28" width="7" fill="#e5e6e6"/><rect x="238" y="28" width="28" fill="#fafafa"/><rect x="322" y="28" width="14" fill="#f3f4f5"/><rect x="336" y="28" width="7" fill="#f4f5f5"/><rect x="343" y="28" width="21" fill="#f5f6f6"/><rect x="364" y="28" width="14" fill="#f4f5f5"/><rect x="378" y="28" width="14" fill="#eff0f1"/><rect x="392" y="28" width="7" fill="#fcfcfc"/><rect x="420" y="28" width="7" fill="#e3e6e7"/><rect x="427" y="28" width="7" fill="#f6f7f7"/><rect x="434" y="28" width="21" fill="#f8f9f9"/><rect x="455" y="28" width="7" fill="#f5f6f6"/><rect x="462" y="28" width="7" fill="#f0f1f1"/><rect x="469" y="28" width="7" fill="#f2f3f3"/><rect x="476" y="28" width="7" fill="#e8ebeb"/><rect x="483" y="28" width="7" fill="#f8f9f9"/><rect x="525" y="28" width="7" fill="#f8f9f9"/><rect x="532" y="28" width="7" fill="#f6f7f7"/><rect x="539" y="28" width="14" fill="#eceeee"/><rect x="553" y="28" width="7" fill="#f6f7f7"/><rect x="560" y="28" width="7" fill="#eff1f1"/><rect x="567" y="28" width="7" fill="#f8f9f9"/><rect x="574" y="28" width="7" fill="#f1f2f2"/><rect x="581" y="28" width="7" fill="#f0f1f1"/><rect x="588" y="28" width="7" fill="#f1f2f2"/><rect x="595" y="28" width="7" fill="#fafbfb"/><rect x="602" y="28" width="7" fill="#fcfcfc"/><rect x="637" y="28" width="7" fill="#eff1f1"/><rect x="644" y="28" width="7" fill="#e9ecec"/><rect x="651" y="28" width="7" fill="#eff1f1"/><rect x="658" y="28" width="7" fill="#eef0f0"/><rect x="665" y="28" width="7" fill="#ebeded"/><rect x="672" y="28" width="7" fill="#f6f7f7"/><rect x="679" y="28" width="7" fill="#f3f4f4"/><rect x="686" y="28" width="7" fill="#e6e9e9"/><rect x="693" y="28" width="7" fill="#dadddd"/><rect x="700" y="28" width="7" fill="#f6f7f7"/><rect x="707" y="28" width="7" fill="#fafbfb"/><rect x="714" y="28" width="7" fill="#f6f7f7"/><rect x="721" y="28" width="7" fill="#f3f5f5"/><rect x="728" y="28" width="7" fill="#f8f9f9"/><rect x="735" y="28" width="7" fill="#f6f7f7"/><rect x="770" y="28" width="7" fill="#f5f6f7"/><rect x="777" y="28" width="7" fill="#ececed"/><rect x="784" y="28" width="7" fill="#f2f3f3"/><rect x="791" y="28" width="7" fill="#e9ecec"/><rect x="798" y="28" width="7" fill="#ebeded"/><rect x="805" y="28" width="7" fill="#f5f6f6"/><rect x="812" y="28" width="7" fill="#eeeff0"/><rect x="819" y="28" width="7" fill="#fbfbfb"/><rect x="826" y="28" width="7" fill="#ebedee"/><rect x="833" y="28" width="7" fill="#fcfcfc"/><rect x="840" y="28" width="7" fill="#f6f7f7"/><rect x="847" y="28" width="7" fill="#f8f9f9"/><rect x="854" y="28" width="7" fill="#f0f2f2"/><rect x="861" y="28" width="7" fill="#f2f3f4"/><rect x="868" y="28" width="7" fill="#eef0f1"/><rect x="875" y="28" width="7" fill="#f3f5f5"/><rect x="7" y="35" width="7" fill="#ccd3d4"/><rect x="14" y="35" width="7" fill="#c9d0d1"/><rect x="21" y="35" width="7" fill="#cad0d1"/><rect x="28" y="35" width="7" fill="#c7cdce"/><rect x="35" y="35" width="7" fill="#c5cbcc"/><rect x="42" y="35" width="7" fill="#d0d5d6"/><rect x="49" y="35" width="7" fill="#c5cbcc"/><rect x="56" y="35" width="7" fill="#c0c7c8"/><rect x="63" y="35" width="7" fill="#c8ced0"/><rect x="70" y="35" width="7" fill="#dfe2e3"/><rect x="77" y="35" width="7" fill="#d0d5d6"/><rect x="84" y="35" width="7" fill="#cdd2d3"/><rect x="91" y="35" width="7" fill="#dde0e1"/><rect x="98" y="35" width="7" fill="#dcdfdf"/><rect x="105" y="35" width="7" fill="#b8bebf"/><rect x="112" y="35" width="7" fill="#b8bdbe"/><rect x="119" y="35" width="7" fill="#bcc1c2"/><rect x="126" y="35" width="7" fill="#bfc4c5"/><rect x="133" y="35" width="7" fill="#bcc1c2"/><rect x="140" y="35" width="7" fill="#b0b6b7"/><rect x="147" y="35" width="7" fill="#b2b7b8"/><rect x="154" y="35" width="7" fill="#d5d8d9"/><rect x="161" y="35" width="7" fill="#a0a8aa"/><rect x="168" y="35" width="7" fill="#d5d8d9"/><rect x="175" y="35" width="7" fill="#dddfdf"/><rect x="182" y="35" width="7" fill="#c8cccd"/><rect x="189" y="35" width="7" fill="#c9cdce"/><rect x="196" y="35" width="7" fill="#a5adaf"/><rect x="203" y="35" width="7" fill="#b8bebf"/><rect x="210" y="35" width="7" fill="#ebecec"/><rect x="217" y="35" width="7" fill="#cfd3d3"/><rect x="224" y="35" width="7" fill="#bcc2c3"/><rect x="231" y="35" width="7" fill="#b9bfc0"/><rect x="238" y="35" width="7" fill="#c0c5c5"/><rect x="245" y="35" width="7" fill="#cdd1d1"/><rect x="252" y="35" width="7" fill="#c9cdce"/><rect x="259" y="35" width="7" fill="#dfe1e1"/><rect x="322" y="35" width="7" fill="#f9fafa"/><rect x="329" y="35" width="7" fill="#d3d7d8"/><rect x="336" y="35" width="7" fill="#b5bdbf"/><rect x="343" y="35" width="7" fill="#e1e4e4"/><rect x="350" y="35" width="7" fill="#cad0d1"/><rect x="357" y="35" width="7" fill="#bac2c4"/><rect x="364" y="35" width="7" fill="#c8cdcf"/><rect x="371" y="35" width="7" fill="#d8dcdd"/><rect x="378" y="35" width="7" fill="#b5bec0"/><rect x="385" y="35" width="7" fill="#c5cbcd"/><rect x="392" y="35" width="7" fill="#fcfdfd"/><rect x="420" y="35" width="7" fill="#d6dadb"/><rect x="427" y="35" width="7" fill="#e0e3e3"/><rect x="434" y="35" width="7" fill="#c5cbcc"/><rect x="441" y="35" width="7" fill="#c0c7c8"/><rect x="448" y="35" width="7" fill="#cdd2d3"/><rect x="455" y="35" width="7" fill="#cbd0d1"/><rect x="462" y="35" width="7" fill="#c3c9ca"/><rect x="469" y="35" width="7" fill="#c8cecf"/><rect x="476" y="35" width="7" fill="#d0d5d6"/><rect x="483" y="35" width="7" fill="#f1f2f2"/><rect x="511" y="35" width="7" fill="#b9c4da"/><rect x="518" y="35" width="7" fill="#b8c4da"/><rect x="525" y="35" width="7" fill="#f3f4f4"/><rect x="532" y="35" width="7" fill="#e3e6e6"/><rect x="539" y="35" width="14" fill="#dde0e0"/><rect x="553" y="35" width="7" fill="#fafbfb"/><rect x="560" y="35" width="7" fill="#d5dadb"/><rect x="567" y="35" width="7" fill="#ececed"/><rect x="574" y="35" width="7" fill="#e0e3e3"/><rect x="581" y="35" width="7" fill="#cdd3d4"/><rect x="588" y="35" width="7" fill="#dbdfdf"/><rect x="595" y="35" width="7" fill="#d8dcdc"/><rect x="602" y="35" width="7" fill="#ebeded"/><rect x="616" y="35" width="7" fill="#eef6fd"/><rect x="623" y="35" width="7" fill="#bde3fc"/><rect x="630" y="35" width="7" fill="#e3f2fd"/><rect x="637" y="35" width="7" fill="#d5d9da"/><rect x="644" y="35" width="7" fill="#cad0d1"/><rect x="651" y="35" width="7" fill="#e0e3e3"/><rect x="658" y="35" width="7" fill="#ebeded"/><rect x="665" y="35" width="7" fill="#f0f1f1"/><rect x="672" y="35" width="7" fill="#dadedf"/><rect x="679" y="35" width="7" fill="#eef0f0"/><rect x="686" y="35" width="7" fill="#e3e6e6"/><rect x="693" y="35" width="7" fill="#dde1e1"/><rect x="700" y="35" width="7" fill="#d5dada"/><rect x="707" y="35" width="7" fill="#d6dbdb"/><rect x="714" y="35" width="7" fill="#d8dcdc"/><rect x="721" y="35" width="7" fill="#c8cfd0"/><rect x="728" y="35" width="7" fill="#cbd1d2"/><rect x="735" y="35" width="7" fill="#d3d8d9"/><rect x="756" y="35" width="7" fill="#e3e8e8"/><rect x="763" y="35" width="7" fill="#c9d5d6"/><rect x="770" y="35" width="7" fill="#f3f4f5"/><rect x="777" y="35" width="14" fill="#dde1e1"/><rect x="791" y="35" width="7" fill="#c8d0d1"/><rect x="798" y="35" width="7" fill="#dde1e1"/><rect x="805" y="35" width="7" fill="#fbfbfb"/><rect x="812" y="35" width="7" fill="#d3d9da"/><rect x="819" y="35" width="7" fill="#f6f7f7"/><rect x="826" y="35" width="7" fill="#d8dddd"/><rect x="833" y="35" width="7" fill="#dde1e1"/><rect x="840" y="35" width="7" fill="#d0d6d7"/><rect x="847" y="35" width="7" fill="#d3d8d9"/><rect x="854" y="35" width="14" fill="#d0d6d7"/><rect x="868" y="35" width="7" fill="#ccd2d4"/><rect x="875" y="35" width="7" fill="#e6eaea"/><rect x="7" y="42" width="7" fill="#f8f9f9"/><rect x="14" y="42" width="7" fill="#f6f7f8"/><rect x="21" y="42" width="7" fill="#f9f9f9"/><rect x="28" y="42" width="14" fill="#f6f7f7"/><rect x="42" y="42" width="7" fill="#f9fafa"/><rect x="49" y="42" width="7" fill="#f7f8f8"/><rect x="56" y="42" width="7" fill="#f6f7f7"/><rect x="63" y="42" width="7" fill="#f7f8f8"/><rect x="70" y="42" width="7" fill="#f9f9f9"/><rect x="77" y="42" width="7" fill="#f7f8f8"/><rect x="84" y="42" width="7" fill="#f8f9f9"/><rect x="91" y="42" width="7" fill="#f9f9f9"/><rect x="98" y="42" width="14" fill="#fafafa"/><rect x="112" y="42" width="7" fill="#f4f4f4"/><rect x="119" y="42" width="14" fill="#f8f8f8"/><rect x="133" y="42" width="21" fill="#f3f3f3"/><rect x="154" y="42" width="7" fill="#f2f2f2"/><rect x="161" y="42" width="7" fill="#f3f3f3"/><rect x="168" y="42" width="7" fill="#f7f7f7"/><rect x="175" y="42" width="7" fill="#f8f8f8"/><rect x="182" y="42" width="7" fill="#f6f7f7"/><rect x="189" y="42" width="7" fill="#f7f7f7"/><rect x="196" y="42" width="7" fill="#f6f6f6"/><rect x="203" y="42" width="7" fill="#f5f5f5"/><rect x="217" y="42" width="7" fill="#f4f5f5"/><rect x="224" y="42" width="7" fill="#f5f5f5"/><rect x="231" y="42" width="14" fill="#f8f9f9"/><rect x="245" y="42" width="7" fill="#f3f3f3"/><rect x="252" y="42" width="7" fill="#f8f8f8"/><rect x="259" y="42" width="7" fill="#f7f8f8"/><rect x="434" y="42" width="7" fill="#f5f6f6"/><rect x="441" y="42" width="7" fill="#f2f3f3"/><rect x="532" y="42" width="7" fill="#fcfdfd"/><rect x="651" y="42" width="7" fill="#fbfcfc"/><rect x="721" y="42" width="7" fill="#f0f2f3"/><rect x="784" y="42" width="7" fill="#fbfbfb"/><rect x="840" y="42" width="7" fill="#f0f2f3"/></svg>
<svg class="mz" style="left:383px;top:806px" width="921" height="49" viewBox="0 0 921 49"><rect x="7" y="0" width="7" fill="#fdfcf8"/><rect x="14" y="0" width="7" fill="#fffaf0"/><rect x="28" y="0" width="7" fill="#fbfbfb"/><rect x="42" y="0" width="7" fill="#fbfbfb"/><rect x="511" y="0" width="7" fill="#eef6fd"/><rect x="518" y="0" width="203" fill="#e3f2fd"/><rect x="721" y="0" width="7" fill="#e6f3fc"/><rect x="728" y="0" width="7" fill="#e9eff1"/><rect x="735" y="0" width="168" fill="#e9eeef"/><rect x="903" y="0" width="7" fill="#f8fafa"/><rect x="7" y="7" width="7" fill="#f6c98a"/><rect x="14" y="7" width="7" fill="#f5b236"/><rect x="21" y="7" width="7" fill="#fdeccf"/><rect x="28" y="7" width="7" fill="#c5c7c9"/><rect x="35" y="7" width="7" fill="#f1f1f1"/><rect x="42" y="7" width="7" fill="#d5d7d9"/><rect x="49" y="7" width="7" fill="#d0d3d4"/><rect x="56" y="7" width="7" fill="#e6e7e7"/><rect x="63" y="7" width="7" fill="#e8e9e9"/><rect x="70" y="7" width="7" fill="#e6e7e7"/><rect x="77" y="7" width="7" fill="#e8e9ea"/><rect x="84" y="7" width="14" fill="#e6e7e7"/><rect x="98" y="7" width="14" fill="#ebecec"/><rect x="112" y="7" width="7" fill="#f6f7f7"/><rect x="119" y="7" width="7" fill="#dfe1e2"/><rect x="126" y="7" width="7" fill="#dadddd"/><rect x="133" y="7" width="7" fill="#e3e5e5"/><rect x="140" y="7" width="14" fill="#ebecec"/><rect x="154" y="7" width="7" fill="#e6e7e8"/><rect x="161" y="7" width="7" fill="#e9eaea"/><rect x="168" y="7" width="7" fill="#fbfcfc"/><rect x="175" y="7" width="7" fill="#ebecec"/><rect x="182" y="7" width="7" fill="#f3f4f4"/><rect x="189" y="7" width="7" fill="#d3d7d8"/><rect x="196" y="7" width="7" fill="#f3f4f4"/><rect x="203" y="7" width="7" fill="#dddfe0"/><rect x="210" y="7" width="7" fill="#e9eaea"/><rect x="217" y="7" width="7" fill="#e3e4e4"/><rect x="224" y="7" width="7" fill="#f3f4f4"/><rect x="231" y="7" width="7" fill="#f0f1f1"/><rect x="238" y="7" width="7" fill="#e6e7e7"/><rect x="245" y="7" width="7" fill="#c3c7c8"/><rect x="252" y="7" width="7" fill="#f1f2f2"/><rect x="273" y="7" width="7" fill="#c5c9ca"/><rect x="280" y="7" width="7" fill="#e6e7e7"/><rect x="322" y="7" width="7" fill="#e9e9e9"/><rect x="329" y="7" width="7" fill="#d5d8d9"/><rect x="336" y="7" width="7" fill="#c3c7c8"/><rect x="343" y="7" width="14" fill="#ebecec"/><rect x="420" y="7" width="7" fill="#c5c8c8"/><rect x="427" y="7" width="7" fill="#d8dada"/><rect x="434" y="7" width="7" fill="#e3e4e4"/><rect x="441" y="7" width="7" fill="#bcc0c0"/><rect x="511" y="7" width="7" fill="#86bce6"/><rect x="518" y="7" width="7" fill="#63b8e8"/><rect x="525" y="7" width="196" fill="#76d3fd"/><rect x="721" y="7" width="7" fill="#96d9fc"/><rect x="728" y="7" width="7" fill="#adc1c5"/><rect x="735" y="7" width="168" fill="#a6babe"/><rect x="903" y="7" width="7" fill="#dde3e5"/><rect x="7" y="14" width="7" fill="#f5be6a"/><rect x="14" y="14" width="7" fill="#f5b236"/><rect x="21" y="14" width="7" fill="#ebd3b0"/><rect x="28" y="14" width="7" fill="#c5c7c9"/><rect x="35" y="14" width="7" fill="#c8cacc"/><rect x="42" y="14" width="7" fill="#f1f1f1"/><rect x="49" y="14" width="7" fill="#c5c9ca"/><rect x="56" y="14" width="7" fill="#9ca2a4"/><rect x="63" y="14" width="7" fill="#b2b7b8"/><rect x="70" y="14" width="7" fill="#b5b9ba"/><rect x="77" y="14" width="7" fill="#acb1b2"/><rect x="84" y="14" width="7" fill="#bcc1c2"/><rect x="91" y="14" width="7" fill="#9ca2a4"/><rect x="98" y="14" width="7" fill="#adb2b3"/><rect x="105" y="14" width="7" fill="#9ca2a4"/><rect x="112" y="14" width="7" fill="#f6f7f7"/><rect x="119" y="14" width="7" fill="#e0e2e2"/><rect x="126" y="14" width="7" fill="#adb2b3"/><rect x="133" y="14" width="7" fill="#a0a6a8"/><rect x="140" y="14" width="7" fill="#b9bebf"/><rect x="147" y="14" width="7" fill="#a9aeb0"/><rect x="154" y="14" width="7" fill="#b0b5b6"/><rect x="161" y="14" width="7" fill="#a9aeb0"/><rect x="168" y="14" width="7" fill="#ccd0d1"/><rect x="175" y="14" width="7" fill="#e3e5e5"/><rect x="182" y="14" width="7" fill="#cdd1d2"/><rect x="189" y="14" width="7" fill="#adb2b3"/><rect x="196" y="14" width="7" fill="#b0b5b6"/><rect x="203" y="14" width="7" fill="#8d9496"/><rect x="210" y="14" width="7" fill="#cdd0d1"/><rect x="217" y="14" width="7" fill="#9ea4a6"/><rect x="224" y="14" width="7" fill="#bcc1c2"/><rect x="231" y="14" width="7" fill="#a9aeb0"/><rect x="238" y="14" width="7" fill="#b0b5b6"/><rect x="245" y="14" width="7" fill="#9a9fa1"/><rect x="252" y="14" width="7" fill="#cdd0d1"/><rect x="259" y="14" width="7" fill="#e6e8e8"/><rect x="266" y="14" width="7" fill="#eff0f0"/><rect x="273" y="14" width="7" fill="#b9bebf"/><rect x="280" y="14" width="7" fill="#c8cccd"/><rect x="287" y="14" width="7" fill="#eceeee"/><rect x="294" y="14" width="7" fill="#f1f2f2"/><rect x="322" y="14" width="7" fill="#e9e9e9"/><rect x="329" y="14" width="14" fill="#b5babb"/><rect x="343" y="14" width="7" fill="#a9aeb0"/><rect x="350" y="14" width="7" fill="#c8cccd"/><rect x="420" y="14" width="7" fill="#bcc0c0"/><rect x="427" y="14" width="7" fill="#b9bdbd"/><rect x="434" y="14" width="7" fill="#bcc0c0"/><rect x="441" y="14" width="7" fill="#9ea3a5"/><rect x="448" y="14" width="7" fill="#fcfcfc"/><rect x="511" y="14" width="7" fill="#9dd0f3"/><rect x="518" y="14" width="7" fill="#6ec8f5"/><rect x="525" y="14" width="196" fill="#76d3fd"/><rect x="721" y="14" width="7" fill="#96d9fc"/><rect x="728" y="14" width="7" fill="#adc1c5"/><rect x="735" y="14" width="168" fill="#a6babe"/><rect x="903" y="14" width="7" fill="#e1e7e8"/><rect x="7" y="21" width="7" fill="#fef3e6"/><rect x="14" y="21" width="7" fill="#fce3cb"/><rect x="21" y="21" width="7" fill="#fefbf6"/><rect x="28" y="21" width="7" fill="#dedfe2"/><rect x="35" y="21" width="7" fill="#f8f8f8"/><rect x="112" y="21" width="7" fill="#f1f2f2"/><rect x="168" y="21" width="7" fill="#f1f2f2"/><rect x="0" y="28" width="14" fill="#f7f8f8"/><rect x="56" y="28" width="7" fill="#f8f9f9"/><rect x="70" y="28" width="7" fill="#fafafa"/><rect x="98" y="28" width="7" fill="#f5f5f5"/><rect x="105" y="28" width="7" fill="#f1f2f2"/><rect x="140" y="28" width="21" fill="#f6f7f7"/><rect x="175" y="28" width="7" fill="#f8f8f8"/><rect x="182" y="28" width="7" fill="#f4f5f5"/><rect x="189" y="28" width="7" fill="#f6f6f6"/><rect x="210" y="28" width="7" fill="#fcfcfc"/><rect x="217" y="28" width="7" fill="#e5e6e6"/><rect x="238" y="28" width="28" fill="#fafafa"/><rect x="322" y="28" width="14" fill="#f3f4f5"/><rect x="336" y="28" width="7" fill="#f4f5f5"/><rect x="343" y="28" width="21" fill="#f5f6f6"/><rect x="364" y="28" width="14" fill="#f4f5f5"/><rect x="378" y="28" width="14" fill="#eff0f1"/><rect x="392" y="28" width="7" fill="#fcfcfc"/><rect x="420" y="28" width="7" fill="#e3e6e7"/><rect x="427" y="28" width="7" fill="#f6f7f7"/><rect x="434" y="28" width="21" fill="#f8f9f9"/><rect x="455" y="28" width="7" fill="#f5f6f6"/><rect x="462" y="28" width="7" fill="#f0f1f1"/><rect x="469" y="28" width="7" fill="#f2f3f3"/><rect x="476" y="28" width="7" fill="#e8ebeb"/><rect x="483" y="28" width="7" fill="#f8f9f9"/><rect x="525" y="28" width="14" fill="#fafbfb"/><rect x="539" y="28" width="7" fill="#ececed"/><rect x="546" y="28" width="7" fill="#f5f6f6"/><rect x="553" y="28" width="14" fill="#f3f4f4"/><rect x="567" y="28" width="7" fill="#f5f6f6"/><rect x="574" y="28" width="7" fill="#ececed"/><rect x="581" y="28" width="7" fill="#f5f6f6"/><rect x="588" y="28" width="7" fill="#f1f2f2"/><rect x="595" y="28" width="7" fill="#f6f7f7"/><rect x="602" y="28" width="7" fill="#fcfcfc"/><rect x="637" y="28" width="21" fill="#eff1f1"/><rect x="658" y="28" width="7" fill="#ebeded"/><rect x="665" y="28" width="7" fill="#f6f7f8"/><rect x="672" y="28" width="7" fill="#eff1f1"/><rect x="679" y="28" width="7" fill="#fcfcfc"/><rect x="686" y="28" width="7" fill="#e3e6e6"/><rect x="693" y="28" width="7" fill="#dde0e1"/><rect x="700" y="28" width="7" fill="#f0f2f2"/><rect x="707" y="28" width="7" fill="#fcfdfd"/><rect x="714" y="28" width="7" fill="#f5f6f7"/><rect x="721" y="28" width="7" fill="#f8f9f9"/><rect x="728" y="28" width="7" fill="#f6f7f8"/><rect x="735" y="28" width="7" fill="#f8f9f9"/><rect x="777" y="28" width="7" fill="#ececed"/><rect x="784" y="28" width="14" fill="#eaeced"/><rect x="798" y="28" width="7" fill="#eeefef"/><rect x="805" y="28" width="7" fill="#f8f9f9"/><rect x="812" y="28" width="7" fill="#e6eaea"/><rect x="826" y="28" width="7" fill="#ebedee"/><rect x="833" y="28" width="7" fill="#f8f8f8"/><rect x="840" y="28" width="7" fill="#f4f5f6"/><rect x="847" y="28" width="14" fill="#f8f9f9"/><rect x="861" y="28" width="7" fill="#eef0f1"/><rect x="868" y="28" width="7" fill="#f0f2f2"/><rect x="875" y="28" width="7" fill="#e8ebec"/><rect x="7" y="35" width="7" fill="#ccd3d4"/><rect x="14" y="35" width="7" fill="#c9d0d1"/><rect x="21" y="35" width="7" fill="#cad0d1"/><rect x="28" y="35" width="7" fill="#c7cdce"/><rect x="35" y="35" width="7" fill="#c5cbcc"/><rect x="42" y="35" width="7" fill="#d0d5d6"/><rect x="49" y="35" width="7" fill="#c5cbcc"/><rect x="56" y="35" width="7" fill="#c0c7c8"/><rect x="63" y="35" width="7" fill="#c8ced0"/><rect x="70" y="35" width="7" fill="#dfe2e3"/><rect x="77" y="35" width="7" fill="#d0d5d6"/><rect x="84" y="35" width="7" fill="#cdd2d3"/><rect x="91" y="35" width="7" fill="#dde0e1"/><rect x="98" y="35" width="7" fill="#dcdfdf"/><rect x="105" y="35" width="7" fill="#b8bebf"/><rect x="112" y="35" width="7" fill="#b8bdbe"/><rect x="119" y="35" width="7" fill="#bcc1c2"/><rect x="126" y="35" width="7" fill="#bfc4c5"/><rect x="133" y="35" width="7" fill="#bcc1c2"/><rect x="140" y="35" width="7" fill="#b0b6b7"/><rect x="147" y="35" width="7" fill="#b2b7b8"/><rect x="154" y="35" width="7" fill="#d5d8d9"/><rect x="161" y="35" width="7" fill="#a0a8aa"/><rect x="168" y="35" width="7" fill="#d5d8d9"/><rect x="175" y="35" width="7" fill="#dddfdf"/><rect x="182" y="35" width="7" fill="#c8cccd"/><rect x="189" y="35" width="7" fill="#c9cdce"/><rect x="196" y="35" width="7" fill="#a5adaf"/><rect x="203" y="35" width="7" fill="#b8bebf"/><rect x="210" y="35" width="7" fill="#ebecec"/><rect x="217" y="35" width="7" fill="#cfd3d3"/><rect x="224" y="35" width="7" fill="#bcc2c3"/><rect x="231" y="35" width="7" fill="#b9bfc0"/><rect x="238" y="35" width="7" fill="#c0c5c5"/><rect x="245" y="35" width="7" fill="#cdd1d1"/><rect x="252" y="35" width="7" fill="#c9cdce"/><rect x="259" y="35" width="7" fill="#dfe1e1"/><rect x="322" y="35" width="7" fill="#f9fafa"/><rect x="329" y="35" width="7" fill="#d3d7d8"/><rect x="336" y="35" width="7" fill="#b5bdbf"/><rect x="343" y="35" width="7" fill="#e1e4e4"/><rect x="350" y="35" width="7" fill="#cad0d1"/><rect x="357" y="35" width="7" fill="#bac2c4"/><rect x="364" y="35" width="7" fill="#c8cdcf"/><rect x="371" y="35" width="7" fill="#d8dcdd"/><rect x="378" y="35" width="7" fill="#b5bec0"/><rect x="385" y="35" width="7" fill="#c5cbcd"/><rect x="392" y="35" width="7" fill="#fcfdfd"/><rect x="420" y="35" width="7" fill="#d6dadb"/><rect x="427" y="35" width="7" fill="#e0e3e3"/><rect x="434" y="35" width="7" fill="#c5cbcc"/><rect x="441" y="35" width="7" fill="#c0c7c8"/><rect x="448" y="35" width="7" fill="#cdd2d3"/><rect x="455" y="35" width="7" fill="#cbd0d1"/><rect x="462" y="35" width="7" fill="#c3c9ca"/><rect x="469" y="35" width="7" fill="#c8cecf"/><rect x="476" y="35" width="7" fill="#d0d5d6"/><rect x="483" y="35" width="7" fill="#f1f2f2"/><rect x="511" y="35" width="7" fill="#b9c4da"/><rect x="518" y="35" width="7" fill="#b8c4da"/><rect x="525" y="35" width="7" fill="#f0f1f1"/><rect x="532" y="35" width="7" fill="#e3e6e6"/><rect x="539" y="35" width="7" fill="#ececed"/><rect x="546" y="35" width="7" fill="#d3d8d9"/><rect x="553" y="35" width="7" fill="#f8f9f9"/><rect x="560" y="35" width="7" fill="#dde0e0"/><rect x="567" y="35" width="7" fill="#ececed"/><rect x="574" y="35" width="7" fill="#d8dcdc"/><rect x="581" y="35" width="14" fill="#dadedf"/><rect x="595" y="35" width="7" fill="#d5dadb"/><rect x="602" y="35" width="7" fill="#eff0f1"/><rect x="616" y="35" width="7" fill="#eef6fd"/><rect x="623" y="35" width="7" fill="#bde3fc"/><rect x="630" y="35" width="7" fill="#e3f2fd"/><rect x="637" y="35" width="14" fill="#d8dcdc"/><rect x="651" y="35" width="7" fill="#e3e6e6"/><rect x="658" y="35" width="7" fill="#c8ced0"/><rect x="665" y="35" width="7" fill="#fafbfb"/><rect x="672" y="35" width="7" fill="#d5dadb"/><rect x="679" y="35" width="7" fill="#f3f4f4"/><rect x="686" y="35" width="7" fill="#e3e6e6"/><rect x="693" y="35" width="7" fill="#d5dadb"/><rect x="700" y="35" width="7" fill="#dde1e1"/><rect x="707" y="35" width="7" fill="#d6dbdc"/><rect x="714" y="35" width="7" fill="#d6dbdb"/><rect x="721" y="35" width="7" fill="#d8dcdc"/><rect x="728" y="35" width="7" fill="#c0c8c9"/><rect x="735" y="35" width="7" fill="#dde1e1"/><rect x="742" y="35" width="7" fill="#eff1f1"/><rect x="756" y="35" width="7" fill="#eceff0"/><rect x="763" y="35" width="7" fill="#ccd7d8"/><rect x="770" y="35" width="7" fill="#f3f5f5"/><rect x="777" y="35" width="7" fill="#dde1e1"/><rect x="784" y="35" width="7" fill="#d6dbdc"/><rect x="791" y="35" width="7" fill="#d0d6d7"/><rect x="798" y="35" width="7" fill="#dbdfdf"/><rect x="805" y="35" width="7" fill="#fcfcfc"/><rect x="812" y="35" width="7" fill="#dde1e2"/><rect x="819" y="35" width="7" fill="#f3f4f4"/><rect x="826" y="35" width="7" fill="#dde1e1"/><rect x="833" y="35" width="7" fill="#d8dddd"/><rect x="840" y="35" width="7" fill="#cdd3d4"/><rect x="847" y="35" width="7" fill="#d0d6d7"/><rect x="854" y="35" width="7" fill="#dadedf"/><rect x="861" y="35" width="7" fill="#d0d6d7"/><rect x="868" y="35" width="7" fill="#d3d8d9"/><rect x="875" y="35" width="7" fill="#d8dcdd"/><rect x="7" y="42" width="7" fill="#f8f9f9"/><rect x="14" y="42" width="7" fill="#f6f7f8"/><rect x="21" y="42" width="7" fill="#f9f9f9"/><rect x="28" y="42" width="14" fill="#f6f7f7"/><rect x="42" y="42" width="7" fill="#f9fafa"/><rect x="49" y="42" width="7" fill="#f7f8f8"/><rect x="56" y="42" width="7" fill="#f6f7f7"/><rect x="63" y="42" width="7" fill="#f7f8f8"/><rect x="70" y="42" width="7" fill="#f9f9f9"/><rect x="77" y="42" width="7" fill="#f7f8f8"/><rect x="84" y="42" width="7" fill="#f8f9f9"/><rect x="91" y="42" width="7" fill="#f9f9f9"/><rect x="98" y="42" width="14" fill="#fafafa"/><rect x="112" y="42" width="7" fill="#f4f4f4"/><rect x="119" y="42" width="14" fill="#f8f8f8"/><rect x="133" y="42" width="21" fill="#f3f3f3"/><rect x="154" y="42" width="7" fill="#f2f2f2"/><rect x="161" y="42" width="7" fill="#f3f3f3"/><rect x="168" y="42" width="7" fill="#f7f7f7"/><rect x="175" y="42" width="7" fill="#f8f8f8"/><rect x="182" y="42" width="7" fill="#f6f7f7"/><rect x="189" y="42" width="7" fill="#f7f7f7"/><rect x="196" y="42" width="7" fill="#f6f6f6"/><rect x="203" y="42" width="7" fill="#f5f5f5"/><rect x="217" y="42" width="7" fill="#f4f5f5"/><rect x="224" y="42" width="7" fill="#f5f5f5"/><rect x="231" y="42" width="14" fill="#f8f9f9"/><rect x="245" y="42" width="7" fill="#f3f3f3"/><rect x="252" y="42" width="7" fill="#f8f8f8"/><rect x="259" y="42" width="7" fill="#f7f8f8"/><rect x="434" y="42" width="7" fill="#f5f6f6"/><rect x="441" y="42" width="7" fill="#f2f3f3"/><rect x="532" y="42" width="7" fill="#fcfdfd"/><rect x="651" y="42" width="7" fill="#fbfcfc"/><rect x="721" y="42" width="7" fill="#f2f4f4"/><rect x="728" y="42" width="7" fill="#f8f9f9"/><rect x="784" y="42" width="7" fill="#fbfbfb"/><rect x="840" y="42" width="7" fill="#f0f2f3"/></svg>
<div class="dots" style="top:609.75px">...</div>
<div class="dots" style="top:714.75px">...</div>
<div class="dots" style="top:819.75px">...</div>

<!-- SUPPORT -->
<div class="abs" id="support" style="left:1380px;top:706px;width:38px;height:120px;background:#ff6633;border-radius:3px 0 0 3px;box-shadow:-2px 4px 36px rgba(0,0,0,.14)"></div>
<div class="t" style="left:1391px;top:783.3px;font-size:16.5px;font-weight:700;color:#fff;-webkit-text-stroke:.3px #fff;transform-origin:0 0;transform:rotate(-90deg)">Support</div>

<!-- SCROLLBAR -->
<div class="abs" style="left:1418px;top:0;width:10px;height:870px;background:#fafafa;border-left:1px solid #e8e8e8"></div>
<div class="abs" style="left:1422px;top:1px;width:10px;height:224px;border-radius:5px;background:#c1c1c1"></div>

<!-- ICONS -->
<svg id="ic" width="1428" height="870" viewBox="0 0 1428 870">
  <!-- logo -->
  <path style="fill:#fff;stroke:none" fill-rule="evenodd" d="M30.6 14.2H45.9a9.6 9.6 0 0 1 0 19.2H30.6a9.6 9.6 0 0 1 0-19.2ZM29.7 20.3H45.5a3.6 3.6 0 0 1 0 7.2H29.7a3.6 3.6 0 0 1 0-7.2Z"/>
  <path style="fill:#fff;stroke:none" d="M42.3 32.3L47.9 37.9H50.9L49.6 31.2Z"/>
  <rect x="36.3" y="12" width="2.5" height="24" style="fill:#002831;stroke:none"/>
  <!-- sidebar icons -->
  <g stroke="#6f8a90" stroke-width="1.2">
    <path d="M21.2 98.6L29 91.3l7.8 7.3M23 97.2V105a1.5 1.5 0 0 0 1.5 1.5h9A1.5 1.5 0 0 0 35 105V97.2M27 106.5v-3.9a2 2 0 0 1 4 0v3.9"/>
    <circle cx="28.9" cy="144" r="3"/>
    <path d="M24 154.9a5 5.3 0 0 1 10 0M24.3 142.3A2.7 2.7 0 1 0 25 147.6M33.7 142.3A2.7 2.7 0 1 1 33 147.6M19.5 154.9Q19.8 150.5 23.6 149.6M38.5 154.9Q38.2 150.5 34.4 149.6"/>
    <rect x="21.6" y="191.7" width="14.8" height="10.7" rx="1.3"/>
    <path d="M21.9 192.6L29 198.5l7.1-5.9"/>
    <rect x="22.5" y="239.7" width="13" height="13" rx="1.6"/>
    <path stroke-width="1.1" stroke-linecap="butt" style="stroke-linecap:butt;opacity:.8" d="M25 243h1.9M28.2 243h4.8M25 246h1.9M28.2 246h4.8M25 249h1.9M28.2 249h4.8"/>
    <circle cx="24.5" cy="314.4" r="2.1"/><circle cx="33.5" cy="314.4" r="2.1"/><circle cx="24.5" cy="325.7" r="2.1"/>
    <path d="M24.5 316.5v7.1M24.5 319.8h5.7a3.3 3.3 0 0 0 3.3-3.3"/>
    <path d="M31.4 437.6v-.4a1.5 1.5 0 0 0-1.5-1.5H22.1a1.5 1.5 0 0 0-1.5 1.5v11.7a1.5 1.5 0 0 0 1.5 1.5h6.4M24.5 450.4V448a1.55 1.55 0 0 1 3.1 0v2.4"/>
    <path stroke-width="1.4" d="M24.3 439.3h.01M27.6 439.3h.01M24.3 442.7h.01M27.6 442.7h.01"/>
    <rect x="30.5" y="439.6" width="8" height="12" rx="1.6"/>
    <path d="M32.9 442.5h3.2M32.9 445.5h3.2M32.9 448.5H35"/>
  </g>
  <g stroke="#00262f" stroke-width="1.1">
    <circle cx="27.5" cy="367.4" r="6.1"/>
    <path d="M31.9 371.9l4.8 4.7M25.4 367.4v2.4M27.5 364.3v5.5M29.6 366.2v3.6"/>
  </g>
  <!-- header icons -->
  <circle cx="1005" cy="26.8" r="6.9" stroke="#4d666d" stroke-width="1"/>
  <path d="M1059 24l4.4 4.4 4.4-4.4" stroke="#3d5d66" stroke-width="1.1"/>
  <g stroke="#00262f" stroke-width="1.2">
    <circle cx="1128" cy="21.6" r="4"/>
    <text x="1128" y="23.7" text-anchor="middle" style="fill:#00262f;stroke:none;font:700 6.5px 'Liberation Sans',sans-serif">$</text>
    <path d="M1120 33.600h11.600l5-3.400c1-.7.300-2.100-.9-1.500l-3.300 1.600"/>
    <path d="M1120 29.900c2 0 2.900-2.300 5.300-2.300h4.700c1.700 0 2 2.400.3 2.700h-2.800"/>
  </g>
  <g stroke="#0b3a44" stroke-width="1.2">
    <circle cx="1188.4" cy="21.900" r="3.600"/>
    <path d="M1181.900 33.600a6.600 6.200 0 0 1 13.200 0"/>
  </g>
  <!-- filter icons -->
  <path d="M477.200 238.200l4.100 4.300 4.100-4.300M1048.300 238l3.800 3.900 3.800-3.900" stroke="#1f444d" stroke-width="1.100"/>
  <g stroke="#17404a" stroke-width="1">
    <rect x="690.600" y="234.400" width="10" height="10" rx="1.200"/>
    <path d="M693.200 233.300v2.200M698 233.300v2.200M690.600 237.600h10"/>
  </g>
  <path d="M1194.100 234.600h11.800M1194.100 239.800h11.800M1194.100 244.800h11.800M1189.900 234.600h1.400M1189.900 239.800h1.400M1189.900 244.800h1.400" stroke="#7a8f94" stroke-width="1.400" style="stroke-linecap:butt"/>
  <g stroke="#6f868c" stroke-width="1.100">
    <rect x="1283.600" y="234.100" width="12.700" height="12.300" rx="1.500"/>
    <path d="M1286.300 232.200v2.800M1293.500 232.200v2.800M1283.600 238.700h12.700"/>
  </g>
  <!-- kpi icons -->
  <g stroke="#eef3f4" stroke-width="1.300">
    <path d="M339.700 379.300C333.300 378.500 328.300 382.300 326.900 389.300l2.600 2.700C336.700 390.500 340.600 385.600 339.700 379.300Z"/>
    <circle cx="334.200" cy="384.900" r="1.500"/>
    <path d="M328 384.400h-4.600l-2.900 5.200 6.400.7M328.800 392.200v6l5.800-2.600v-4.200"/>
  </g>
  <g stroke="#ecf7fe" stroke-width="1.300">
    <path d="M685.400 384l9.500-6.600 9.700 6.600v11.300a1.200 1.200 0 0 1-1.200 1.200H686.600a1.200 1.200 0 0 1-1.200-1.200Z"/>
    <path d="M685.600 384.600l9.300 6.600 9.500-6.600"/>
  </g>
  <g stroke="#fff" stroke-width="1.300">
    <path d="M1053 378.800l13.400 9.500-7.800.5-5.600 6.400Z"/>
    <path d="M1058.800 389.200l4.200 8.600"/>
  </g>
  <!-- support bulb -->
  <g stroke="#fff" stroke-width="1.300">
    <path d="M1401.600 799.200A5.900 5.900 0 1 0 1401.600 804.800l3-.6v-4.400Z"/>
    <path d="M1407.600 800v4"/>
  </g>
</svg>
</body>
</html>
